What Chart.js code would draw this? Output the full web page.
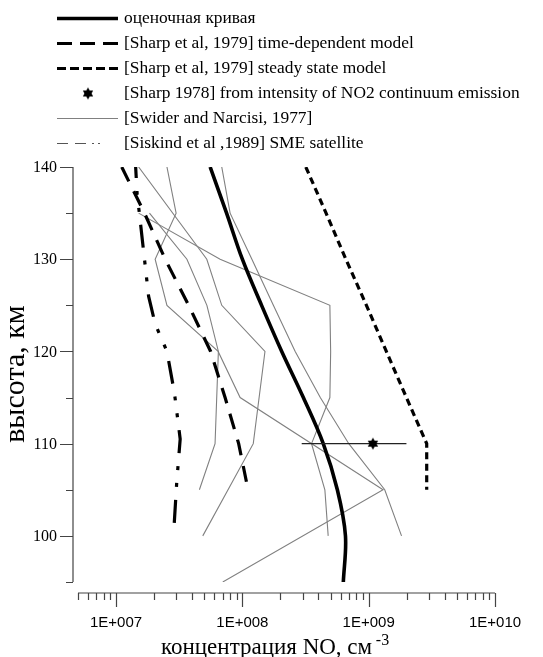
<!DOCTYPE html>
<html>
<head>
<meta charset="utf-8">
<script src="https://cdn.jsdelivr.net/npm/chart.js@4.4.1/dist/chart.umd.min.js"></script>
<style>
  html, body { margin: 0; padding: 0; background: #fff; }
  #wrap { width: 543px; height: 657px; position: relative; }
</style>
</head>
<body>
<div id="wrap"><canvas id="noChart"></canvas></div>
<script>
// NO concentration (cm^-3) vs altitude (km)
const estAlt = [140, 135, 130, 125, 120, 115, 110, 105, 100, 95];
const estNO = [5.56e7, 7.5e7, 1.0e8, 1.42e8, 2.05e8, 3.04e8, 4.37e8, 5.65e8, 6.55e8, 6.3e8];

const timeDepAlt = [140, 135, 130, 125, 120, 115, 110, 105];
const timeDepNO = [1.11e7, 1.68e7, 2.45e7, 3.76e7, 5.61e7, 7.3e7, 9.35e7, 1.11e8];

const steadyAlt = [140, 135, 130, 125, 120, 115, 110, 105];
const steadyNO = [3.18e8, 4.6e8, 6.6e8, 9.6e8, 1.38e9, 1.99e9, 2.88e9, 2.88e9];

const sharpAlt = [110];
const sharpNO = [1.08e9];
const sharpRange = [2.95e8, 1.99e9];

const swider1Alt = [140, 130, 125, 120, 110, 100];
const swider1NO = [1.51e7, 5.23e7, 6.87e7, 1.51e8, 1.22e8, 4.86e7];
const swider2Alt = [135, 130, 125, 120, 110, 105];
const swider2NO = [1.84e7, 3.64e7, 5.24e7, 6.46e7, 6.08e7, 4.57e7];
const swider3Alt = [140, 135, 130, 125, 120, 115, 105, 95];
const swider3NO = [2.53e7, 2.99e7, 2.04e7, 2.53e7, 6.43e7, 9.6e7, 1.30e9, 7.0e7];
const swider4Alt = [140, 135, 130, 125, 120, 115, 110, 105, 100];
const swider4NO = [6.87e7, 8.0e7, 1.19e8, 1.76e8, 2.62e8, 4.14e8, 6.96e8, 1.34e9, 1.82e9];
const swider5Alt = [135, 130, 125, 120, 115, 110, 105, 100];
const swider5NO = [1.51e7, 6.67e7, 4.93e8, 5.0e8, 4.93e8, 3.53e8, 4.5e8, 4.78e8];

const siskindAlt = [140, 137, 135, 126, 123, 120, 115.5, 110.5, 106, 100];
const siskindNO = [1.43e7, 1.47e7, 1.53e7, 1.81e7, 2.04e7, 2.53e7, 2.9e7, 3.22e7, 3.03e7, 2.85e7];

const yTicks = [95, 100, 105, 110, 115, 120, 125, 130, 135, 140];
const yLabels = [100, 110, 120, 130, 140];
const xLabels = [1e7, 1e8, 1e9, 1e10];
const xLabelText = ['1E+007', '1E+008', '1E+009', '1E+010'];

const serif = '"Liberation Serif", "Times New Roman", serif';
const sans = '"Liberation Sans", Arial, sans-serif';
const gray = '#808080';

function pts(xs, ys) {
  return xs.map((x, i) => ({ x: x, y: ys[i] }));
}

// filled six-pointed star used as a point marker
function makeStar(r) {
  const c = document.createElement('canvas');
  c.width = c.height = 2 * r + 2;
  const g = c.getContext('2d');
  g.translate(r + 1, r + 1);
  g.fillStyle = '#000';
  [-90, 90].forEach(a0 => {
    g.beginPath();
    for (let k = 0; k < 3; k++) {
      const a = (a0 + k * 120) * Math.PI / 180;
      g[k ? 'lineTo' : 'moveTo'](r * Math.cos(a), r * Math.sin(a));
    }
    g.closePath();
    g.fill();
  });
  return c;
}
const star = makeStar(6);

const line = {
  showLine: true,
  pointRadius: 0,
  fill: false,
  tension: 0,
  borderCapStyle: 'butt'
};

const swiderSets = [
  [swider1NO, swider1Alt], [swider2NO, swider2Alt], [swider3NO, swider3Alt],
  [swider4NO, swider4Alt], [swider5NO, swider5Alt]
].map(([xs, ys], i) => Object.assign({}, line, {
  label: i === 0 ? '[Swider and Narcisi, 1977]' : '',
  legendRow: i === 0 ? 4 : undefined,
  data: pts(xs, ys),
  borderColor: gray,
  borderWidth: 1.1
}));

const datasets = [
  {
    label: '[Sharp 1978] from intensity of NO2 continuum emission',
    legendRow: 3,
    data: pts(sharpNO, sharpAlt),
    showLine: false,
    pointStyle: star,
    pointRadius: 6
  },
  Object.assign({}, line, {
    data: pts(sharpRange, [sharpAlt[0], sharpAlt[0]]),
    borderColor: '#222',
    borderWidth: 1.2
  }),
  Object.assign({}, line, {
    label: 'оценочная кривая',
    legendRow: 0,
    data: pts(estNO, estAlt),
    borderColor: '#000',
    borderWidth: 3.6,
    tension: 0.35
  }),
  Object.assign({}, line, {
    label: '[Sharp et al, 1979] time-dependent model',
    legendRow: 1,
    data: pts(timeDepNO, timeDepAlt),
    borderColor: '#000',
    borderWidth: 3.2,
    borderDash: [16, 11],
    legendDash: [15, 8]
  }),
  Object.assign({}, line, {
    label: '[Sharp et al, 1979] steady state model',
    legendRow: 2,
    data: pts(steadyNO, steadyAlt),
    borderColor: '#000',
    borderWidth: 3.2,
    borderDash: [7, 4.5],
    legendDash: [9, 4]
  }),
  Object.assign({}, line, {
    label: '[Siskind et al ,1989] SME satellite',
    legendRow: 5,
    data: pts(siskindNO, siskindAlt),
    borderColor: '#000',
    borderWidth: 3.2,
    borderDash: [23, 13, 4, 13, 4, 13],
    borderDashOffset: 12,
    legendDash: [11, 7, 11, 6, 2, 4, 2, 40],
    legendWidth: 1.2,
    legendColor: '#555'
  })
].concat(swiderSets);

// legend rows drawn at the top of the canvas
const legendPlugin = {
  id: 'topLegend',
  afterDraw(chart) {
    const ctx = chart.ctx;
    ctx.save();
    chart.data.datasets.forEach(ds => {
      if (ds.legendRow === undefined) return;
      const y = 18.5 + ds.legendRow * 25;
      if (ds.pointStyle === star) {
        ctx.drawImage(star, 88 - star.width / 2, y - star.height / 2);
      } else {
        ctx.beginPath();
        ctx.setLineDash(ds.legendDash || ds.borderDash || []);
        ctx.lineDashOffset = 0;
        ctx.lineWidth = ds.legendWidth || ds.borderWidth;
        ctx.strokeStyle = ds.legendColor || ds.borderColor;
        ctx.lineCap = 'butt';
        ctx.moveTo(57, y);
        ctx.lineTo(118, y);
        ctx.stroke();
      }
      ctx.setLineDash([]);
      ctx.fillStyle = '#000';
      ctx.font = '17.4px ' + serif;
      ctx.textAlign = 'left';
      ctx.textBaseline = 'middle';
      ctx.fillText(ds.label, 124, y);
    });
    ctx.restore();
  }
};

// detached axes: y axis left of the plot, x axis below it
const axesPlugin = {
  id: 'detachedAxes',
  afterDraw(chart) {
    const ctx = chart.ctx;
    const xs = chart.scales.x, ys = chart.scales.y;
    const area = chart.chartArea;
    const ax = area.left - 5;
    const ay = area.bottom + 11;
    ctx.save();
    ctx.strokeStyle = '#444';
    ctx.fillStyle = '#000';
    ctx.lineWidth = 1.2;

    ctx.beginPath();
    ctx.moveTo(ax, ys.getPixelForValue(140));
    ctx.lineTo(ax, ys.getPixelForValue(95));
    yTicks.forEach(v => {
      const py = Math.round(ys.getPixelForValue(v)) + 0.5;
      const len = v % 10 === 0 ? 13 : 7;
      ctx.moveTo(ax, py);
      ctx.lineTo(ax - len, py);
    });
    ctx.stroke();

    ctx.font = '16px ' + serif;
    ctx.textAlign = 'right';
    ctx.textBaseline = 'middle';
    yLabels.forEach(v => ctx.fillText(String(v), ax - 16, ys.getPixelForValue(v) + 1));

    ctx.beginPath();
    ctx.moveTo(xs.getPixelForValue(5e6), ay);
    ctx.lineTo(xs.getPixelForValue(1e10), ay);
    for (let d = 6; d <= 10; d++) {
      for (let m = 1; m <= 9; m++) {
        const v = m * Math.pow(10, d);
        if (v < 5e6 || v > 1e10) continue;
        const px = Math.round(xs.getPixelForValue(v)) + 0.5;
        ctx.moveTo(px, ay);
        ctx.lineTo(px, ay + (m === 1 ? 14 : 7));
      }
    }
    ctx.stroke();

    ctx.font = '15px ' + sans;
    ctx.textAlign = 'center';
    ctx.textBaseline = 'middle';
    xLabels.forEach((v, i) => ctx.fillText(xLabelText[i], xs.getPixelForValue(v), 623));

    // axis titles
    ctx.font = '23px ' + serif;
    ctx.textAlign = 'left';
    ctx.textBaseline = 'alphabetic';
    const main = 'концентрация NO, см ';
    const x0 = 161;
    ctx.fillText(main, x0, 654);
    const w = ctx.measureText(main).width;
    ctx.font = '16px ' + serif;
    ctx.fillText('-3', x0 + w - 2, 645);

    ctx.translate(24, 374);
    ctx.rotate(-Math.PI / 2);
    ctx.font = '30px ' + serif;
    ctx.textAlign = 'center';
    ctx.fillText('высота, км', 0, 0);
    ctx.restore();
  }
};

new Chart(document.getElementById('noChart'), {
  type: 'scatter',
  data: { datasets: datasets },
  options: {
    responsive: true,
    maintainAspectRatio: false,
    animation: false,
    events: [],
    layout: { padding: { left: 78, right: 48, top: 167, bottom: 75 } },
    scales: {
      x: { type: 'logarithmic', min: 5e6, max: 1e10, display: false },
      y: { type: 'linear', min: 95, max: 140, display: false }
    },
    plugins: {
      legend: { display: false },
      tooltip: { enabled: false }
    }
  },
  plugins: [legendPlugin, axesPlugin]
});
</script>
</body>
</html>
